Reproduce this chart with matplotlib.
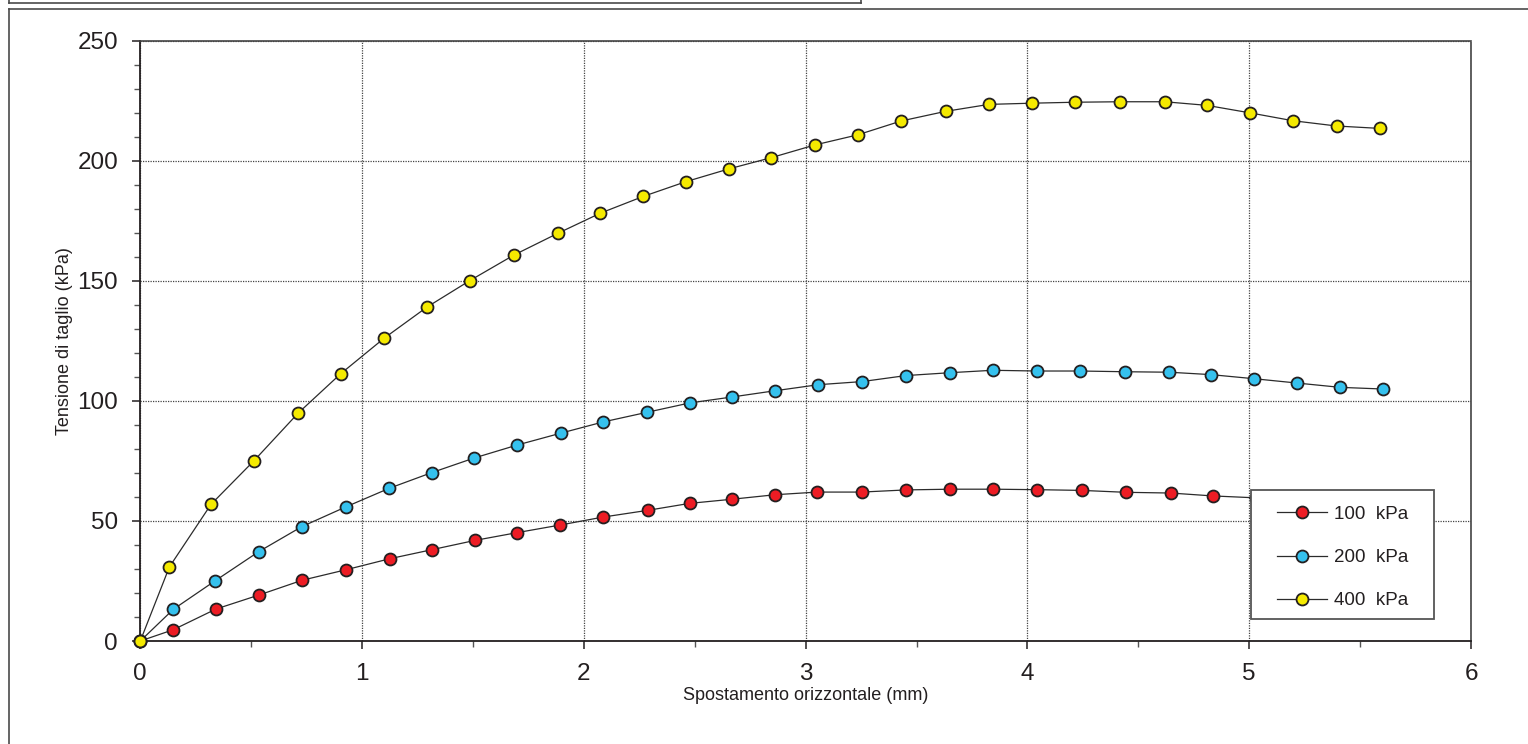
import matplotlib
matplotlib.use("Agg")
import matplotlib.pyplot as plt
from matplotlib.lines import Line2D
from matplotlib.patches import Rectangle
from matplotlib.ticker import MultipleLocator

plt.rcParams['font.family'] = ['Liberation Sans', 'DejaVu Sans']

# ---- data ----
x_100 = [0.0, 0.149, 0.341, 0.537, 0.730, 0.929, 1.127, 1.314, 1.510, 1.698, 1.894,
         2.087, 2.288, 2.477, 2.666, 2.863, 3.052, 3.252, 3.454, 3.652, 3.846,
         4.044, 4.244, 4.444, 4.646, 4.835, 5.030, 5.225, 5.420, 5.610]
y_100 = [0.0, 4.7, 13.3, 19.2, 25.3, 29.7, 34.3, 38.0, 41.9, 45.1, 48.3,
         51.6, 54.4, 57.3, 59.0, 60.9, 62.0, 62.0, 62.9, 63.2, 63.2,
         63.0, 62.7, 61.9, 61.6, 60.4, 59.6, 58.8, 58.0, 57.5]

x_200 = [0.0, 0.149, 0.338, 0.534, 0.728, 0.926, 1.123, 1.314, 1.506, 1.700, 1.895,
         2.087, 2.284, 2.477, 2.669, 2.863, 3.057, 3.254, 3.452, 3.651, 3.843,
         4.041, 4.238, 4.440, 4.639, 4.827, 5.021, 5.215, 5.410, 5.604]
y_200 = [0.0, 13.2, 25.1, 37.2, 47.6, 55.8, 63.6, 70.1, 76.2, 81.6, 86.5,
         91.2, 95.2, 99.1, 101.6, 104.2, 106.7, 108.0, 110.5, 111.7, 112.7,
         112.4, 112.4, 112.1, 111.9, 110.9, 109.2, 107.4, 105.6, 104.9]

x_400 = [0.0, 0.131, 0.319, 0.511, 0.712, 0.904, 1.100, 1.294, 1.485, 1.685, 1.882,
         2.074, 2.268, 2.459, 2.656, 2.844, 3.041, 3.234, 3.431, 3.631, 3.826,
         4.020, 4.216, 4.417, 4.619, 4.809, 5.002, 5.197, 5.394, 5.589]
y_400 = [0.0, 30.8, 56.9, 74.9, 94.9, 111.3, 126.1, 139.1, 150.0, 160.7, 169.7,
         178.1, 185.1, 191.2, 196.6, 201.2, 206.5, 210.7, 216.5, 220.5, 223.4,
         223.9, 224.3, 224.5, 224.5, 223.0, 219.9, 216.6, 214.4, 213.4]

labels = ["100  kPa", "200  kPa", "400  kPa"]
colors = ["#ED1C24", "#35C1EE", "#F5EA00"]

x_label = "Spostamento orizzontale (mm)"
y_label = "Tensione di taglio (kPa)"

W, H = 1528, 744
fig = plt.figure(figsize=(W / 100, H / 100), dpi=100)

# axes position from pixel estimates
x0, x1 = 140.3, 1471.0
y0, y1 = 641.0, 40.5
ax = fig.add_axes([x0 / W, 1 - y0 / H, (x1 - x0) / W, (y0 - y1) / H])

series = [(x_100, y_100), (x_200, y_200), (x_400, y_400)]
for (xs, ys), c, lab in zip(series, colors, labels):
    ax.plot(xs, ys, color="#2b2b2b", lw=0.9, marker="o", markersize=8.6,
            markerfacecolor=c, markeredgecolor="#231f20", markeredgewidth=1.3,
            label=lab, zorder=3, clip_on=False)

ax.set_xlim(0, 6)
ax.set_ylim(0, 250)
ax.xaxis.set_major_locator(MultipleLocator(1))
ax.xaxis.set_minor_locator(MultipleLocator(0.5))
ax.yaxis.set_major_locator(MultipleLocator(50))
ax.yaxis.set_minor_locator(MultipleLocator(10))

ax.grid(True, which="major", linestyle=(0, (1, 1)), color="#444444", lw=0.9)
ax.set_axisbelow(True)

for s in ["left", "bottom"]:
    ax.spines[s].set_color("#231f20")
    ax.spines[s].set_linewidth(1.3)
for s in ["top", "right"]:
    ax.spines[s].set_color("#444444")
    ax.spines[s].set_linewidth(1.2)
    ax.spines[s].set_linestyle((0, (1, 1)))

ax.tick_params(which="major", direction="out", length=6, width=1.1, color="#231f20",
               labelsize=17.5, labelcolor="#231f20", pad=10)
ax.tick_params(which="minor", direction="out", length=4, width=1.0, color="#555555")

ax.set_xlabel(x_label, fontsize=13, color="#231f20", labelpad=1)
ax.set_ylabel(y_label, fontsize=13, color="#231f20", labelpad=3)

# legend box (axes coordinates)
lx0, ly0, lw_, lh_ = 0.8345, 0.0361, 0.1377, 0.2159
ax.add_patch(Rectangle((lx0, ly0), lw_, lh_, transform=ax.transAxes,
                       facecolor="white", edgecolor="#555555", lw=1.3, zorder=4))
leg = ax.legend(loc="center", bbox_to_anchor=(lx0, ly0 - 0.005, lw_, lh_), frameon=False,
                fontsize=13.5, handlelength=2.7, handletextpad=0.35, labelspacing=1.4,
                borderpad=0.2)
leg.set_zorder(5)
for t in leg.get_texts():
    t.set_color("#231f20")

# outer frames
fc = "#4a4a4a"
fig.add_artist(Line2D([8.6 / W, 8.6 / W], [0, 1 - 9 / H], color=fc, lw=1.2))
fig.add_artist(Line2D([8.6 / W, 1.0], [1 - 9 / H, 1 - 9 / H], color=fc, lw=1.2))
fig.add_artist(Line2D([8.6 / W, 861 / W], [1 - 3.3 / H, 1 - 3.3 / H], color=fc, lw=1.2))
fig.add_artist(Line2D([8.6 / W, 8.6 / W], [1 - 3.3 / H, 1], color=fc, lw=1.2))
fig.add_artist(Line2D([861 / W, 861 / W], [1 - 3.3 / H, 1], color=fc, lw=1.2))

fig.savefig("out.png", dpi=100)
